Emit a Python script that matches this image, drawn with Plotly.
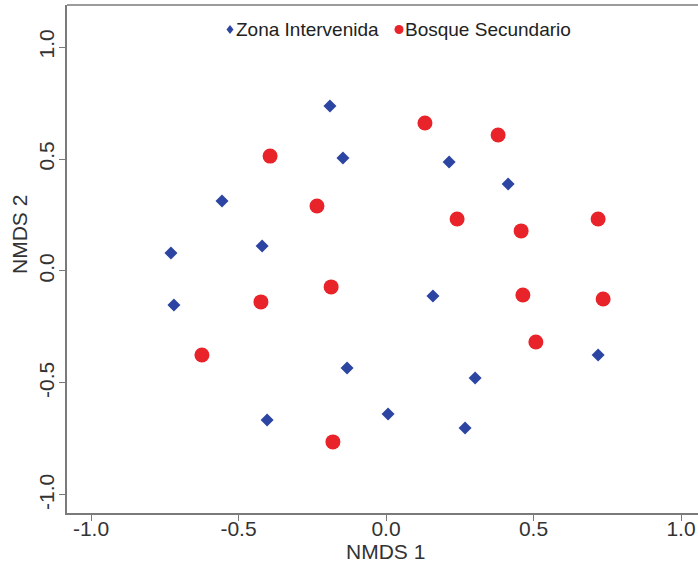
import plotly.graph_objects as go

# ---- data ----
zona_x = [-0.190, -0.146, 0.214, 0.414, -0.556, -0.420, -0.729, -0.719, 0.159, -0.132, 0.302, 0.719, 0.007, -0.403, 0.268]
zona_y = [0.737, 0.504, 0.487, 0.388, 0.3125, 0.112, 0.080, -0.152, -0.112, -0.433, -0.478, -0.375, -0.638, -0.665, -0.701]
bosque_x = [0.132, 0.380, -0.393, -0.234, 0.241, 0.458, 0.719, -0.186, -0.424, 0.464, 0.736, 0.508, -0.624, -0.180]
bosque_y = [0.661, 0.607, 0.513, 0.290, 0.232, 0.179, 0.232, -0.071, -0.138, -0.107, -0.125, -0.317, -0.375, -0.763]
tick_vals = [-1.0, -0.5, 0.0, 0.5, 1.0]
tick_text = ["-1.0", "-0.5", "0.0", "0.5", "1.0"]
series_names = ["Zona Intervenida", "Bosque Secundario"]

BLUE = "#2D45A2"
RED = "#E8232A"
LINE = "#7a7a7a"
FONT = "Liberation Sans, Arial, sans-serif"
W, H = 698, 569
ML, MR, MT, MB = 67, 0, 5, 56
PW, PH = W - ML - MR, H - MT - MB

def px(x):
    return (x - ML) / PW

def py(y):
    return (H - MB - y) / PH

fig = go.Figure()
fig.add_trace(go.Scatter(x=zona_x, y=zona_y, mode="markers", name=series_names[0],
                         marker=dict(symbol="diamond", size=10, color=BLUE, line=dict(width=0)),
                         showlegend=False))
fig.add_trace(go.Scatter(x=bosque_x, y=bosque_y, mode="markers", name=series_names[1],
                         marker=dict(symbol="circle", size=15, color=RED, line=dict(width=0)),
                         showlegend=False))

axis_common = dict(showline=True, linecolor=LINE, linewidth=1.5, ticks="outside",
                   ticklen=6, tickwidth=1, tickcolor=LINE, showgrid=False, zeroline=False,
                   tickvals=tick_vals, ticktext=tick_text, mirror=False,
                   tickfont=dict(family=FONT, size=21, color="#333333"))
fig.update_xaxes(range=[-1.0814, 1.0576], ticklabelstandoff=-10, **axis_common)
fig.update_yaxes(range=[-1.0804, 1.1875], tickangle=-90, ticklabelstandoff=-3, **axis_common)

shapes = [
    # top frame line (the right side of the frame is cropped off in the original)
    dict(type="line", xref="paper", yref="paper", x0=0, x1=1, y0=1, y1=1,
         line=dict(color=LINE, width=1.5)),
    # manual compact legend symbols
    dict(type="path", xref="paper", yref="paper",
         path=f"M {px(226.5)} {py(29.5)} L {px(230)} {py(25)} L {px(233.5)} {py(29.5)} L {px(230)} {py(34)} Z",
         fillcolor=BLUE, line=dict(width=0)),
    dict(type="circle", xref="paper", yref="paper",
         x0=px(394.5), x1=px(403.5), y0=py(34), y1=py(25), fillcolor=RED, line=dict(width=0)),
]
annotations = [
    dict(text=series_names[0], xref="paper", yref="paper", x=px(234), y=py(29.5),
         xanchor="left", yanchor="middle", showarrow=False,
         font=dict(family=FONT, size=19, color="#222222")),
    dict(text=series_names[1], xref="paper", yref="paper", x=px(402.5), y=py(29.5),
         xanchor="left", yanchor="middle", showarrow=False,
         font=dict(family=FONT, size=19, color="#222222")),
    dict(text="NMDS 1", xref="paper", yref="paper", x=px(385), y=py(551),
         xanchor="center", yanchor="middle", showarrow=False,
         font=dict(family=FONT, size=21, color="#333333")),
    dict(text="NMDS 2", xref="paper", yref="paper", x=px(19), y=py(235), textangle=-90,
         xanchor="center", yanchor="middle", showarrow=False,
         font=dict(family=FONT, size=21, color="#333333")),
]

fig.update_layout(width=W, height=H, margin=dict(l=ML, r=MR, t=MT, b=MB),
                  plot_bgcolor="white", paper_bgcolor="white",
                  shapes=shapes, annotations=annotations, showlegend=False)
fig.write_html("out.html", config={"displayModeBar": False},
               post_script="document.body.style.margin='0';document.body.style.overflow='hidden';")
